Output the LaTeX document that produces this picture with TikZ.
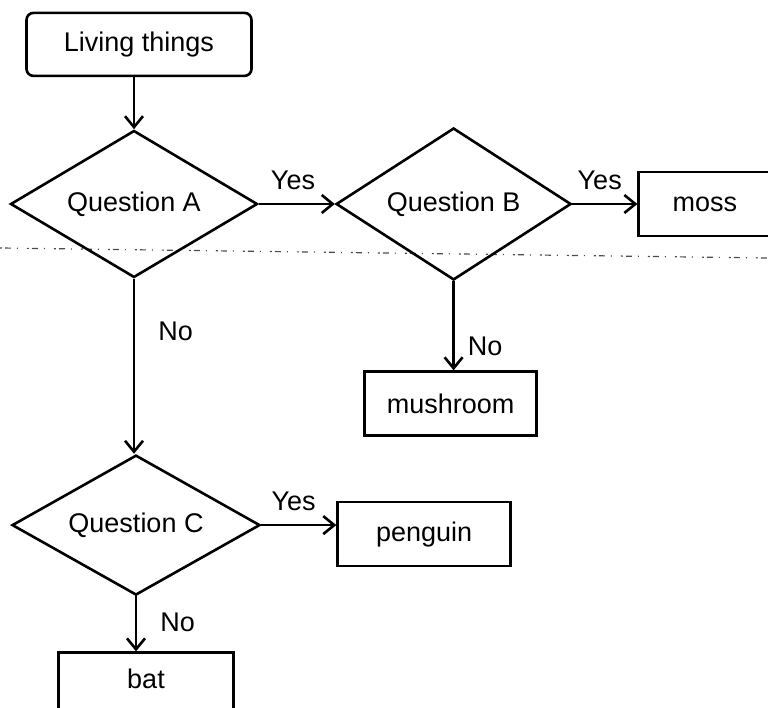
\documentclass[tikz,border=0pt]{standalone}
\usepackage{fontspec}
\setmainfont{Liberation Sans}
\usetikzlibrary{shapes.geometric,positioning,arrows.meta}

\begin{document}
\begin{tikzpicture}[->,>={Straight Barb[length=11pt,width=18pt]},line width=2.6pt,
      x=1pt,y=1pt,auto,
      every node/.style={font=\fontsize{27}{32}\selectfont},
      start node/.style={rectangle,rounded corners=7pt,draw,minimum width=225pt,minimum height=63pt},
      question node/.style={diamond,draw,aspect=1.7,inner sep=0pt},
      answer node/.style={rectangle,draw,minimum height=64pt}]
    \useasboundingbox (0,0) rectangle (768,-708);
    \clip (0,0) rectangle (768,-708);
    % faint fold line of the scan
    \draw[-,black!70,line width=1.2pt,dash pattern=on 2pt off 3pt on 6pt off 6pt on 1pt off 9pt] (0,-248) -- (768,-258);
    \node[question node,minimum width=247pt,minimum height=147pt] (A) at (134,-204) {Question A};
    \node[start node] (living) [above=52pt of A,xshift=5pt] {Living things};
    \node[question node,minimum width=235pt,minimum height=152pt] (B) [right=76pt of A] {Question B};
    \node[answer node,text width=120pt,align=left,inner xsep=34pt] (moss) [right=65pt of B] {moss};
    \node[answer node,minimum width=172pt] (mushroom) [below=89pt of B,xshift=-3pt] {mushroom};
    \node[question node,minimum width=248pt,minimum height=140pt] (C) [below=175pt of A,xshift=2pt] {Question C};
    \node[answer node,minimum width=173pt] (penguin) [right=75pt of C,yshift=-9pt] {penguin};
    \node[answer node,minimum width=175pt,inner ysep=16pt,text depth=50pt] (bat) [below=55pt of C,xshift=10pt] {bat};
    \path[every node/.style={font=\fontsize{27}{32}\selectfont,inner sep=13pt}]
    (A |- living.south) edge (A)
    (A) edge node[pos=0.45] {Yes} (B)
    (B) edge node[pos=0.42] {Yes} (B -| moss.west)
    (B) edge node[pos=0.73] {No} (B |- mushroom.north)
    (A) edge node[pos=0.3,xshift=10pt] {No} (A |- C.north)
    (C) edge node[pos=0.43] {Yes} (C -| penguin.west)
    (C) edge node[pos=0.47,xshift=10pt] {No} (C |- bat.north)
    ;
  \end{tikzpicture}
\end{document}
